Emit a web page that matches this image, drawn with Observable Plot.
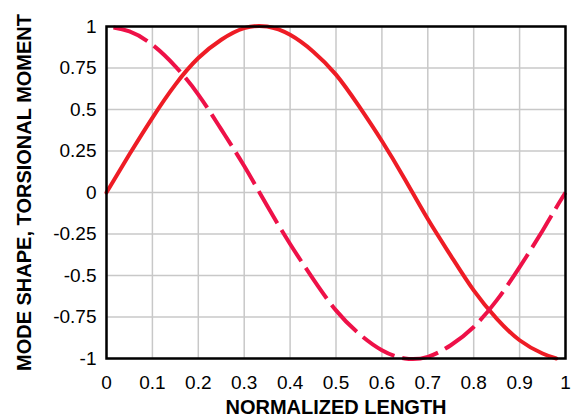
<!DOCTYPE html>
<html>
<head>
<meta charset="utf-8">
<script src="https://cdn.jsdelivr.net/npm/d3@7"></script>
<script src="https://cdn.jsdelivr.net/npm/@observablehq/plot@0.6"></script>
<style>
  html, body { margin: 0; padding: 0; background: #fff; }
  #chart svg { display: block; overflow: visible; }
</style>
</head>
<body>
<div id="chart"></div>
<script>
// Normalized length positions (x)
const xs = [0, 0.05, 0.1, 0.15, 0.2, 0.25, 0.3, 0.35, 0.4, 0.45, 0.5,
            0.55, 0.6, 0.65, 0.7, 0.75, 0.8, 0.85, 0.9, 0.95, 0.98, 1];
// Solid curve: mode shape
const modeShape = [0, 0.23, 0.45, 0.65, 0.81, 0.92, 0.99, 1.0, 0.95, 0.85, 0.71,
                   0.52, 0.31, 0.08, -0.16, -0.38, -0.59, -0.76, -0.89, -0.97, -1.0, null];
// Dashed curve: torsional moment
const torsionalMoment = [1, 0.97, 0.89, 0.76, 0.59, 0.38, 0.16, -0.08, -0.31, -0.52, -0.71,
                         -0.85, -0.95, -1.0, -0.99, -0.92, -0.81, -0.65, -0.45, -0.23, -0.09, 0];

const xTicks = [0, 0.1, 0.2, 0.3, 0.4, 0.5, 0.6, 0.7, 0.8, 0.9, 1];
const yTicks = [-1, -0.75, -0.5, -0.25, 0, 0.25, 0.5, 0.75, 1];
const xTitle = "NORMALIZED LENGTH";
const yTitle = "MODE SHAPE, TORSIONAL MOMENT";

const solid = xs.map((x, i) => ({x, y: modeShape[i]})).filter(d => d.y !== null);
const dashed = xs.map((x, i) => ({x, y: torsionalMoment[i]}));

const fmt = d => String(+d.toFixed(2));

const chart = Plot.plot({
  width: 572,
  height: 418,
  marginLeft: 106,
  marginRight: 7,
  marginTop: 26,
  marginBottom: 60,
  style: {fontFamily: "'Liberation Sans', Arial, sans-serif", color: "#000", background: "#fff"},
  x: {domain: [0, 1]},
  y: {domain: [-1, 1]},
  marks: [
    Plot.gridX(xTicks, {stroke: "#c8c8c8", strokeOpacity: 1, strokeWidth: 1.5}),
    Plot.gridY(yTicks, {stroke: "#c8c8c8", strokeOpacity: 1, strokeWidth: 1.5}),
    Plot.axisX(xTicks, {tickSize: 0, tickPadding: 17, fontSize: 19, tickFormat: fmt, label: null}),
    Plot.axisY(yTicks, {tickSize: 0, tickPadding: 10, fontSize: 19, tickFormat: fmt, label: null}),
    Plot.line(solid, {x: "x", y: "y", stroke: "#ee1c25", strokeWidth: 4, curve: "natural"}),
    Plot.line(dashed, {x: "x", y: "y", stroke: "#ee1148", strokeWidth: 4, curve: "natural",
                       strokeDasharray: "37,8", strokeDashoffset: 38, strokeLinecap: "butt"}),
    Plot.frame({stroke: "#000", strokeWidth: 2.5}),
    Plot.text([xTitle], {frameAnchor: "bottom", lineAnchor: "middle", textAnchor: "middle", dy: 49,
                         fontSize: 20, fontWeight: "bold", fill: "#000"}),
    Plot.text([yTitle], {frameAnchor: "left", lineAnchor: "middle", textAnchor: "middle", dx: -82, rotate: -90,
                         fontSize: 20, fontWeight: "bold", fill: "#000"})
  ]
});
document.getElementById("chart").appendChild(chart);
</script>
</body>
</html>
